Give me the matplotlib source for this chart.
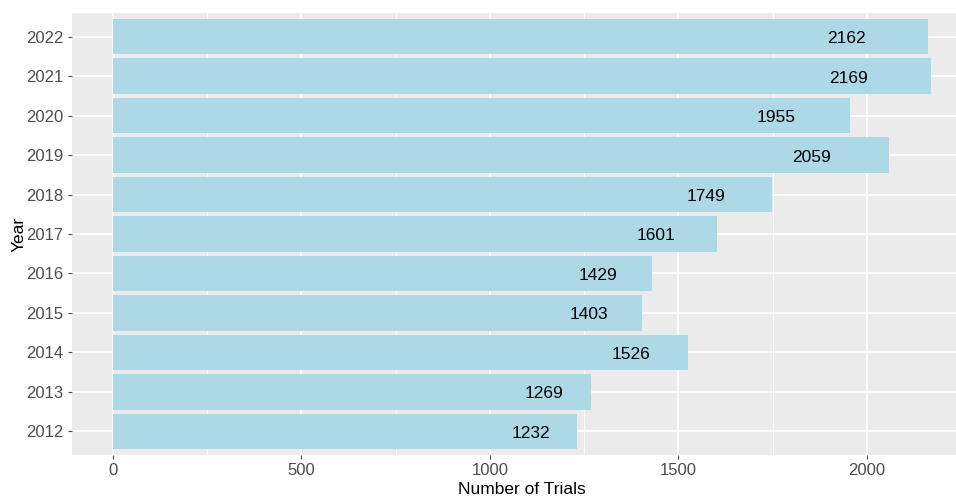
import matplotlib
matplotlib.use("Agg")
import matplotlib.pyplot as plt

years = ["2012", "2013", "2014", "2015", "2016", "2017", "2018", "2019", "2020", "2021", "2022"]
trials = [1232, 1269, 1526, 1403, 1429, 1601, 1749, 2059, 1955, 2169, 2162]
x_ticks = [0, 500, 1000, 1500, 2000]
x_minor = [250, 750, 1250, 1750]

plt.rcParams["font.family"] = ["Liberation Sans", "DejaVu Sans"]

BG_PANEL = "#EBEBEB"
BAR = "#ADD8E6"
TICK = "#4D4D4D"

fig = plt.figure(figsize=(9.56, 4.96), dpi=100)
ax = fig.add_axes([72 / 956, 1 - 455 / 496, (971.6 - 72) / 956, (455 - 13) / 496])
ax.set_facecolor(BG_PANEL)

pos = list(range(len(years)))
xmax = max(trials)
ax.set_xlim(-0.05 * xmax, 1.05 * xmax)
ax.set_ylim(-0.6, len(years) - 1 + 0.6)

ax.set_xticks(x_ticks)
ax.set_xticks(x_minor, minor=True)
ax.set_yticks(pos)
ax.set_yticklabels(years)
ax.grid(which="major", color="white", linewidth=1.3)
ax.grid(which="minor", axis="x", color="white", linewidth=0.6)
ax.set_axisbelow(True)

ax.barh(pos, trials, height=0.9, color=BAR, zorder=2)
for p, v in zip(pos, trials):
    ax.text(v * 0.9, p - 0.05, str(v), ha="center", va="center", fontsize=12.5, color="black", zorder=3)

for s in ax.spines.values():
    s.set_visible(False)
ax.tick_params(which="major", length=3, width=0.8, color=TICK, labelcolor=TICK, labelsize=12, pad=3)
ax.tick_params(which="minor", length=0)

ax.set_xlabel("Number of Trials", fontsize=12.5, color="black", labelpad=3)
ax.set_ylabel("Year", fontsize=12.5, color="black", labelpad=0)

fig.savefig("out.png", dpi=100, facecolor="white")
